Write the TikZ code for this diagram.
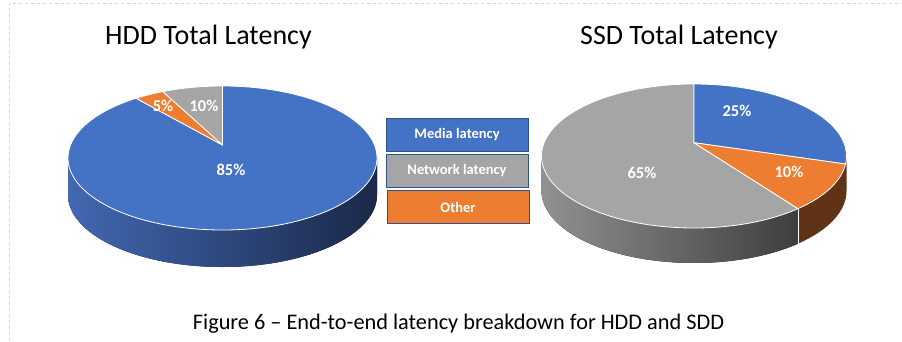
\documentclass[tikz,border=0pt]{standalone}
\usepackage{fontspec}
\setmainfont{Carlito}
\definecolor{pblue}{HTML}{4472C4}
\definecolor{pgray}{HTML}{A5A5A5}
\definecolor{porange}{HTML}{ED7D31}
\definecolor{sideblueL}{RGB}{66,104,178}
\definecolor{sideblueD}{RGB}{27,40,72}
\definecolor{sidegrayL}{RGB}{145,145,145}
\definecolor{sidegrayD}{RGB}{62,62,62}
\definecolor{sideorange}{RGB}{96,51,22}
\definecolor{legedge}{HTML}{2F528F}
\tikzset{
  slice/.style={draw=white, line width=0.8pt, line join=round},
  pct/.style={text=white, font=\bfseries\fontsize{16.5}{19}\selectfont, inner sep=0pt},
  ptitle/.style={font=\fontsize{28}{33}\selectfont, inner sep=0pt},
  legbox/.style={draw=legedge, line width=1pt, minimum width=142pt, minimum height=33pt, inner sep=0pt, text=white, font=\bfseries\fontsize{14.5}{17}\selectfont},
}
\begin{document}
\begin{tikzpicture}[x=1pt,y=1pt]
\useasboundingbox (0,0) rectangle (902,341);
\fill[white] (0,0) rectangle (902,341);
\draw[gray!35, dashed, line width=0.7pt] (9,0) -- (9,338) -- (902,338);

% ---------- HDD pie ----------
\coordinate (C1) at (222.5,183);
\coordinate (A1) at (222.5,196);
\fill[left color=sideblueL, right color=sideblueD]
  (C1) ++(180:154.5 and 72) arc[start angle=180, end angle=360, x radius=154.5, y radius=72]
  -- ++(0,-37) arc[start angle=360, end angle=180, x radius=154.5, y radius=72] -- cycle;
\path (C1) ++(90:154.5 and 72) coordinate (h0);
\path (C1) ++(112.8:154.5 and 72) coordinate (h1);
\path (C1) ++(124:154.5 and 72) coordinate (h2);
\filldraw[slice, fill=pblue] (A1) -- (h2) arc[start angle=124, end angle=450, x radius=154.5, y radius=72] -- cycle;
\filldraw[slice, fill=pgray] (A1) -- (h0) arc[start angle=90, end angle=112.8, x radius=154.5, y radius=72] -- cycle;
\filldraw[slice, fill=porange] (A1) -- (h1) arc[start angle=112.8, end angle=124, x radius=154.5, y radius=72] -- cycle;
\node[pct] (l85) at (231,171) {85\%};
\node[pct] (l5) at (163,235) {5\%};
\node[pct] (l10a) at (204,235) {10\%};
\node[ptitle] (t1) at (208.5,304) {HDD Total Latency};

% ---------- SSD pie ----------
\coordinate (C2) at (694,185);
\coordinate (A2) at (694,198.3);
\path (C2) ++(90:152.5 and 72) coordinate (s0);
\path (C2) ++(-6.4:152.5 and 72) coordinate (s1);
\path (C2) ++(-47:152.5 and 72) coordinate (s2);
\fill[left color=sidegrayL, right color=sidegrayD]
  (C2) ++(180:152.5 and 72) arc[start angle=180, end angle=313, x radius=152.5, y radius=72]
  -- ++(0,-35) arc[start angle=313, end angle=180, x radius=152.5, y radius=72] -- cycle;
\fill[sideorange]
  (s2) arc[start angle=313, end angle=360, x radius=152.5, y radius=72]
  -- ++(0,-35) arc[start angle=360, end angle=313, x radius=152.5, y radius=72] -- cycle;
\draw[white, line width=0.8pt] (s2) -- ++(0,-35);
\filldraw[slice, fill=pgray] (A2) -- (s2) arc[start angle=-47, end angle=-270, x radius=152.5, y radius=72] -- cycle;
\filldraw[slice, fill=pblue] (A2) -- (s0) arc[start angle=90, end angle=-6.4, x radius=152.5, y radius=72] -- cycle;
\filldraw[slice, fill=porange] (A2) -- (s1) arc[start angle=-6.4, end angle=-47, x radius=152.5, y radius=72] -- cycle;
\node[pct] (l25) at (737,230) {25\%};
\node[pct] (l10b) at (789,169) {10\%};
\node[pct] (l65) at (642,168) {65\%};
\node[ptitle] (t2) at (679,304) {SSD Total Latency};

% ---------- legend ----------
\node[legbox, fill=pblue] (m) at (457,206.5) {Media latency};
\node[legbox, fill=pgray] (n) at (457,170.5) {Network latency};
\node[legbox, fill=porange] (o) at (458,134) {Other};

% ---------- caption ----------
\node[font=\fontsize{22.3}{26}\selectfont, inner sep=0pt] (cap) at (458.5,17) {Figure 6 -- End-to-end latency breakdown for HDD and SDD};
\end{tikzpicture}
\end{document}
